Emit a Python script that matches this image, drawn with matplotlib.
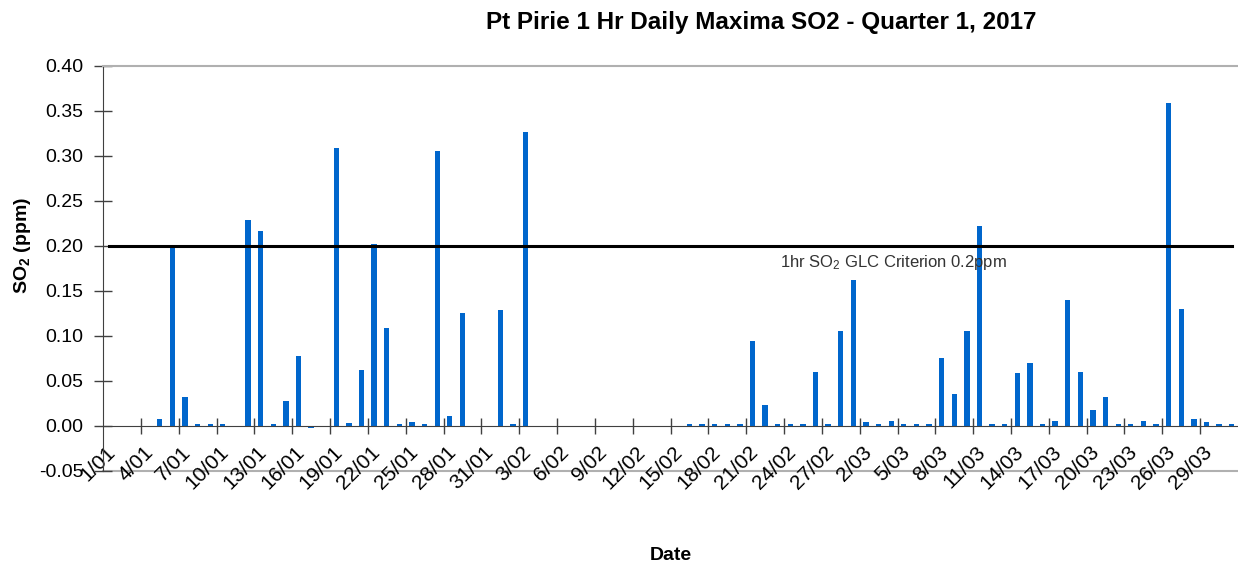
import matplotlib
matplotlib.use("Agg")
import matplotlib.pyplot as plt
import numpy as np
import pandas as pd

plt.rcParams["font.family"] = ["Liberation Sans", "DejaVu Sans"]
plt.rcParams["mathtext.fontset"] = "custom"
plt.rcParams["mathtext.rm"] = "Liberation Sans"
plt.rcParams["mathtext.it"] = "Liberation Sans:italic"
plt.rcParams["mathtext.bf"] = "Liberation Sans:bold"
plt.rcParams["axes.unicode_minus"] = False

# daily 1 hr maxima, 1 Jan - 31 Mar 2017 (nan = no reading)
jan = [np.nan, np.nan, np.nan, np.nan, 0.007, 0.199, 0.032, 0.0015, 0.0015, 0.0015,
       np.nan, 0.228, 0.216, 0.0015, 0.027, 0.077, -0.003, np.nan, 0.308, 0.003,
       0.062, 0.202, 0.108, 0.0015, 0.004, 0.0015, 0.305, 0.011, 0.125, np.nan,
       np.nan]
feb = [0.128, 0.0015, 0.326, np.nan, np.nan, np.nan, np.nan, np.nan, np.nan, np.nan,
       np.nan, np.nan, np.nan, np.nan, np.nan, 0.0015, 0.0015, 0.0015, 0.0015, 0.0015,
       0.094, 0.023, 0.0015, 0.0015, 0.0015, 0.059, 0.0015, 0.105]
mar = [0.162, 0.004, 0.0015, 0.005, 0.0015, 0.0015, 0.0015, 0.075, 0.035, 0.105,
       0.222, 0.0015, 0.0015, 0.058, 0.069, 0.0015, 0.005, 0.139, 0.059, 0.017,
       0.032, 0.0015, 0.0015, 0.005, 0.0015, 0.358, 0.130, 0.007, 0.004, 0.0015,
       0.0015]
so2 = np.array(jan + feb + mar)

CRITERION = 0.2
dates = pd.date_range("2017-01-01", "2017-03-31", freq="D")
day = np.arange(1, len(dates) + 1)
tick_labels = [f"{d.day}/{d.month:02d}" for d in dates[::3]]

W, H = 1238, 564
fig = plt.figure(figsize=(W / 100, H / 100), dpi=100)
ax = fig.add_axes([103 / W, 1 - 470.5 / H, 1 - 103 / W, (470.5 - 65.7) / H])

# category axis sits at zero; the grey frame closes the plot at -0.05
# (spine moves reset the ticks, so do this before styling them)
ax.spines["bottom"].set_position(("data", 0))
ax.spines["bottom"].set_color("#404040")
ax.spines["left"].set_color("#404040")
ax.spines["top"].set_color("#b0b0b0")
ax.spines["top"].set_linewidth(1.5)
ax.spines["right"].set_visible(False)
ax.axhline(-0.05, color="#b0b0b0", lw=1.5, clip_on=False, zorder=1)

ax.bar(day, so2, width=0.42, color="#0066cc", zorder=2)
ax.plot(day, np.full(len(day), CRITERION), color="black", lw=2.2, zorder=3)
ax.text(54.2, 0.181, r"1hr SO$_2$ GLC Criterion 0.2ppm", fontsize=12,
        color="#333333", va="center", ha="left", zorder=4)

ax.set_xlim(0.5, 90.5)
ax.set_ylim(-0.05, 0.40)
yt = np.arange(-0.05, 0.401, 0.05)
ax.set_yticks(yt, [f"{v:.2f}" for v in yt])
ax.tick_params(axis="y", direction="inout", length=13, width=1, color="#404040",
               pad=7.5, labelsize=14)

# tick marks between groups of three days, labels on the first day of each group
ax.set_xticks(np.arange(3.5, 90, 3))
ax.tick_params(axis="x", which="major", direction="inout", length=12, width=1,
               color="#404040", labelbottom=False)
ax.set_xticks(day[::3] - 0.3, tick_labels, minor=True)
ax.tick_params(axis="x", which="minor", length=0, pad=12, labelsize=15,
               labelrotation=45)
plt.setp(ax.get_xticklabels(minor=True), ha="right", va="top",
         rotation_mode="anchor")

ax.set_ylabel(r"SO$_\mathbf{2}$ (ppm)", fontsize=14, fontweight="bold")
ax.yaxis.set_label_coords(-0.0617, 0.557)
ax.set_xlabel("Date", fontsize=14, fontweight="bold")
ax.xaxis.set_label_coords(0.5, -0.19)

fig.text(761 / W, 1 - 23 / H, "Pt Pirie 1 Hr Daily Maxima SO2 - Quarter 1, 2017",
         fontsize=17.5, fontweight="bold", ha="center", va="center")

fig.savefig("out.png", dpi=100)
